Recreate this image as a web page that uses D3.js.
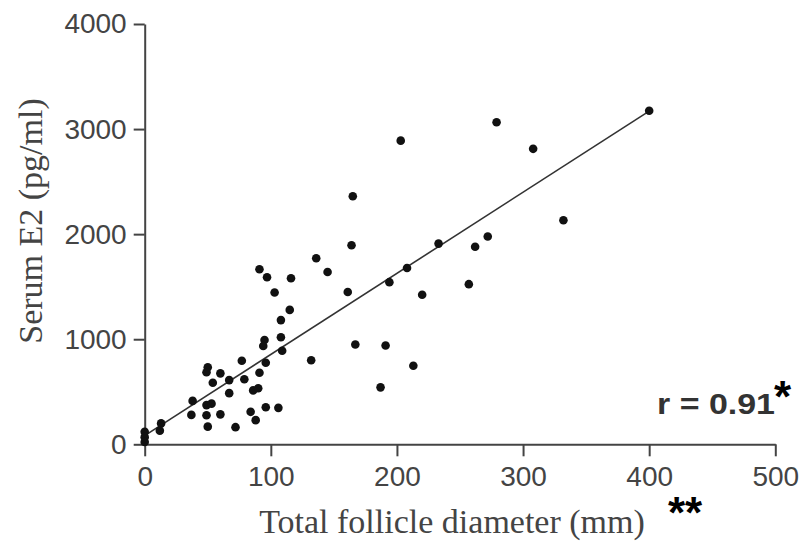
<!DOCTYPE html>
<html>
<head>
<meta charset="utf-8">
<script src="https://cdn.jsdelivr.net/npm/d3@7"></script>
<style>
  html, body { margin: 0; padding: 0; background: #fff; }
  svg { display: block; }
</style>
</head>
<body>
<svg id="chart" width="809" height="549"></svg>
<script>
// ---- data ----
const follicleDiameter = [400, 279, 203, 308, 165, 332, 164, 136, 145, 161, 233, 262, 272, 208, 194, 257, 220, 167, 191, 132, 213, 187,
  91, 97, 116, 103, 115, 108, 108, 95, 94, 109, 96, 77, 91, 50, 49, 60, 54, 67, 79, 67, 86, 90, 38, 49, 53, 37, 49, 60, 84, 96, 106, 88, 50, 72, 13, 12, 0, 0, 0];
const serumE2 = [3175, 3065, 2890, 2812, 2360, 2132, 1895, 1770, 1640, 1450, 1910, 1880, 1977, 1678, 1543, 1524, 1423, 950, 940, 800, 747, 542,
  1666, 1590, 1580, 1444, 1279, 1182, 1019, 993, 936, 890, 776, 795, 681, 733, 686, 675, 586, 611, 619, 487, 513, 533, 413, 373, 387, 280, 276, 285, 309, 352, 347, 230, 168, 163, 199, 130, 120, 68, 22];
const fitX = [0, 400];
const fitY = [83, 3171];
const xTicks = [0, 100, 200, 300, 400, 500];
const yTicks = [0, 1000, 2000, 3000, 4000];
const xLabel = "Total follicle diameter (mm)";
const yLabel = "Serum E2 (pg/ml)";
const rText = "r = 0.91";

// ---- layout ----
const svg = d3.select("#chart");
const m = { left: 144.7, top: 24, right: 809 - 775.3, bottom: 549 - 444.3 };
const W = 809 - m.left - m.right, H = 549 - m.top - m.bottom;
const x = d3.scaleLinear().domain([0, 500]).range([0, W]);
const y = d3.scaleLinear().domain([0, 4000]).range([H, 0]);

svg.append("rect").attr("width", 809).attr("height", 549).attr("fill", "#fff");
const g = svg.append("g").attr("transform", `translate(${m.left},${m.top})`);

// axes
const xAxis = g.append("g").attr("transform", `translate(0,${H})`)
  .call(d3.axisBottom(x).tickValues(xTicks).tickSize(12).tickSizeOuter(0).tickPadding(10).tickFormat(d3.format("d")));
const yAxis = g.append("g")
  .call(d3.axisLeft(y).tickValues(yTicks).tickSize(11).tickSizeOuter(0).tickPadding(7).tickFormat(d3.format("d")));
[xAxis, yAxis].forEach(a => {
  a.select(".domain").attr("stroke", "#444").attr("stroke-width", 2);
  a.selectAll(".tick line").attr("stroke", "#444").attr("stroke-width", 2);
  a.selectAll(".tick text").attr("font-family", "'Liberation Sans', Arial, sans-serif")
    .attr("font-size", 28).attr("fill", "#444");
});

// fit line
g.append("line")
  .attr("x1", x(fitX[0])).attr("y1", y(fitY[0]))
  .attr("x2", x(fitX[1])).attr("y2", y(fitY[1]))
  .attr("stroke", "#333").attr("stroke-width", 1.6);

// points
g.selectAll("circle.pt").data(follicleDiameter.map((d, i) => [d, serumE2[i]]))
  .enter().append("circle").attr("class", "pt")
  .attr("cx", d => x(d[0])).attr("cy", d => y(d[1]))
  .attr("r", 4.3).attr("fill", "#111");

// axis titles
svg.append("text").attr("x", 452).attr("y", 533).attr("text-anchor", "middle")
  .attr("font-family", "'Liberation Serif', 'Times New Roman', serif").attr("font-size", 34)
  .attr("fill", "#444").text(xLabel);
svg.append("text").attr("transform", "translate(42,221) rotate(-90)").attr("text-anchor", "middle")
  .attr("font-family", "'Liberation Serif', 'Times New Roman', serif").attr("font-size", 34)
  .attr("fill", "#444").text(yLabel);

// annotations
svg.append("text").attr("x", 775).attr("y", 414).attr("text-anchor", "end")
  .attr("font-family", "'Liberation Sans', Arial, sans-serif").attr("font-weight", "bold")
  .attr("font-size", 30).attr("fill", "#333")
  .attr("textLength", 118).attr("lengthAdjust", "spacingAndGlyphs").text(rText);
svg.append("text").attr("x", 774).attr("y", 412)
  .attr("font-family", "'Liberation Sans', Arial, sans-serif").attr("font-weight", "bold")
  .attr("font-size", 44).attr("fill", "#000").text("*");
svg.append("text").attr("x", 668).attr("y", 528)
  .attr("font-family", "'Liberation Sans', Arial, sans-serif").attr("font-weight", "bold")
  .attr("font-size", 44).attr("fill", "#000").text("**");
</script>
</body>
</html>
